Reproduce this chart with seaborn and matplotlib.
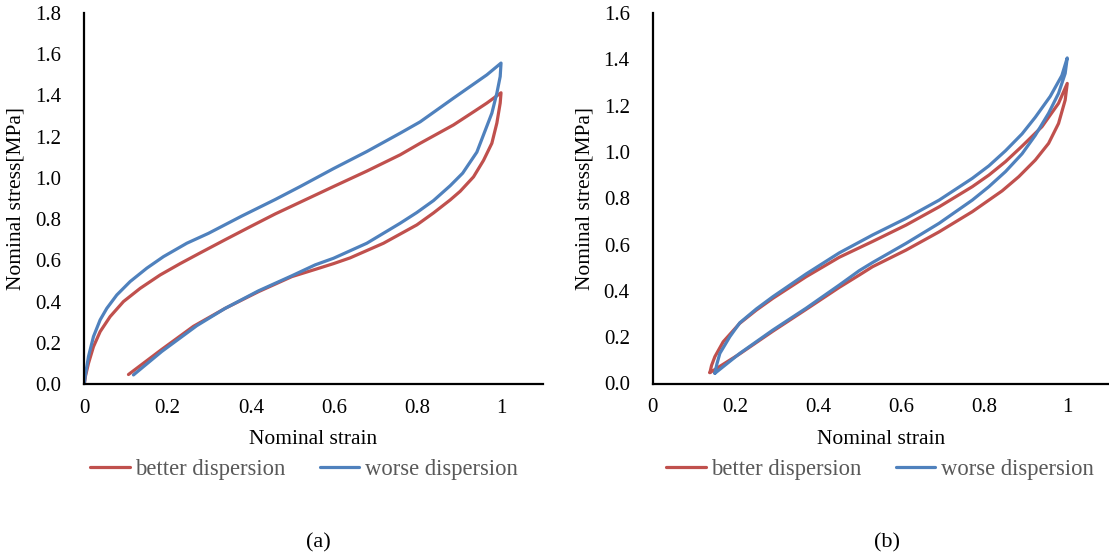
import numpy as np
import pandas as pd
import matplotlib
matplotlib.use("Agg")
import matplotlib.pyplot as plt
from matplotlib.lines import Line2D
import seaborn as sns

# ---- data: nominal stress [MPa] vs nominal strain, one hysteresis loop per series ----
# (a) better dispersion
a_better_load_x = [0.000, 0.003, 0.010, 0.022, 0.038, 0.062, 0.094, 0.134, 0.182, 0.230, 0.278,
                   0.338, 0.398, 0.458, 0.518, 0.598, 0.678, 0.758, 0.806, 0.886, 0.936, 0.966, 1.000]
a_better_load_y = [0.000, 0.040, 0.100, 0.181, 0.254, 0.327, 0.400, 0.464, 0.529, 0.584, 0.636,
                   0.700, 0.763, 0.825, 0.882, 0.958, 1.033, 1.112, 1.168, 1.257, 1.323, 1.363, 1.413]
a_better_unload_x = [0.998, 0.990, 0.978, 0.958, 0.934, 0.902, 0.878, 0.838, 0.798, 0.718, 0.638,
                     0.598, 0.554, 0.498, 0.418, 0.338, 0.262, 0.184, 0.106]
a_better_unload_y = [1.363, 1.266, 1.168, 1.085, 1.005, 0.935, 0.893, 0.830, 0.772, 0.683, 0.612,
                     0.584, 0.556, 0.521, 0.448, 0.367, 0.280, 0.165, 0.046]

# (a) worse dispersion
a_worse_load_x = [0.000, 0.002, 0.010, 0.022, 0.038, 0.054, 0.078, 0.110, 0.150, 0.190, 0.246,
                  0.298, 0.378, 0.458, 0.518, 0.598, 0.678, 0.758, 0.806, 0.886, 0.966, 1.000]
a_worse_load_y = [0.000, 0.035, 0.133, 0.230, 0.311, 0.367, 0.432, 0.497, 0.562, 0.618, 0.683,
                  0.731, 0.815, 0.895, 0.958, 1.045, 1.128, 1.217, 1.272, 1.387, 1.500, 1.557]
a_worse_unload_x = [0.998, 0.990, 0.978, 0.962, 0.942, 0.908, 0.878, 0.838, 0.798, 0.758, 0.678,
                    0.598, 0.554, 0.498, 0.418, 0.338, 0.270, 0.186, 0.118]
a_worse_unload_y = [1.492, 1.411, 1.314, 1.230, 1.125, 1.023, 0.962, 0.890, 0.832, 0.780, 0.683,
                    0.610, 0.578, 0.525, 0.452, 0.367, 0.283, 0.158, 0.044]

# (b) better dispersion
b_better_load_x = [0.138, 0.142, 0.150, 0.170, 0.210, 0.250, 0.290, 0.370, 0.450, 0.530, 0.611,
                   0.691, 0.771, 0.811, 0.851, 0.891, 0.939, 0.979, 1.000]
b_better_load_y = [0.047, 0.078, 0.116, 0.180, 0.260, 0.317, 0.368, 0.461, 0.545, 0.613, 0.684,
                   0.763, 0.850, 0.900, 0.958, 1.025, 1.109, 1.210, 1.296]
b_better_unload_x = [0.995, 0.979, 0.955, 0.923, 0.883, 0.843, 0.771, 0.691, 0.611, 0.530, 0.498,
                     0.450, 0.370, 0.290, 0.210, 0.138]
b_better_unload_y = [1.224, 1.123, 1.037, 0.965, 0.893, 0.832, 0.742, 0.655, 0.576, 0.504, 0.468,
                     0.415, 0.320, 0.226, 0.128, 0.047]

# (b) worse dispersion
b_worse_load_x = [0.150, 0.155, 0.162, 0.186, 0.210, 0.250, 0.290, 0.370, 0.450, 0.530, 0.611,
                  0.691, 0.771, 0.811, 0.851, 0.891, 0.923, 0.959, 0.987, 1.000]
b_worse_load_y = [0.044, 0.085, 0.130, 0.202, 0.262, 0.322, 0.375, 0.473, 0.564, 0.641, 0.713,
                  0.792, 0.886, 0.940, 1.005, 1.078, 1.150, 1.240, 1.330, 1.406]
b_worse_unload_x = [0.995, 0.979, 0.955, 0.923, 0.891, 0.851, 0.811, 0.771, 0.691, 0.611, 0.530,
                    0.498, 0.450, 0.370, 0.290, 0.210, 0.150]
b_worse_unload_y = [1.339, 1.253, 1.167, 1.072, 0.992, 0.915, 0.850, 0.792, 0.692, 0.605, 0.522,
                    0.487, 0.425, 0.325, 0.231, 0.130, 0.044]

series_names = ["better dispersion", "worse dispersion"]
series_colors = ["#C0504D", "#4F81BD"]

x_ticks = [0, 0.2, 0.4, 0.6, 0.8, 1.0]
x_tick_labels = ["0", "0.2", "0.4", "0.6", "0.8", "1"]
a_y_ticks = [0.0, 0.2, 0.4, 0.6, 0.8, 1.0, 1.2, 1.4, 1.6, 1.8]
b_y_ticks = [0.0, 0.2, 0.4, 0.6, 0.8, 1.0, 1.2, 1.4, 1.6]
panel_tags = ["(a)", "(b)"]


def loop_frame(loops):
    """Join loading and unloading branches of each series into one ordered path."""
    parts = []
    for name, (lx, ly, ux, uy) in zip(series_names, loops):
        xs = list(lx) + list(ux)
        ys = list(ly) + list(uy)
        parts.append(pd.DataFrame({"strain": xs, "stress": ys,
                                   "series": name, "order": range(len(xs))}))
    return pd.concat(parts, ignore_index=True)


df_a = loop_frame([(a_better_load_x, a_better_load_y, a_better_unload_x, a_better_unload_y),
                   (a_worse_load_x, a_worse_load_y, a_worse_unload_x, a_worse_unload_y)])
df_b = loop_frame([(b_better_load_x, b_better_load_y, b_better_unload_x, b_better_unload_y),
                   (b_worse_load_x, b_worse_load_y, b_worse_unload_x, b_worse_unload_y)])

sns.set_style("white")
plt.rcParams["font.family"] = ["Liberation Serif", "DejaVu Serif"]

W, H = 1109, 556
fig = plt.figure(figsize=(W / 100, H / 100), dpi=100)
ax_a = fig.add_axes([84.3 / W, (H - 384) / H, 458.4 / W, 371 / H])
ax_b = fig.add_axes([652.7 / W, (H - 383.5) / H, 456.0 / W, 370.5 / H])

palette = dict(zip(series_names, series_colors))
tick_fs = 15
label_fs = 15.5
legend_fs = 16.3

for ax, df, yticks, ymax, tag, legend_cx, tag_x in [
        (ax_a, df_a, a_y_ticks, 1.8, panel_tags[0], 304, 318),
        (ax_b, df_b, b_y_ticks, 1.6, panel_tags[1], 880, 887)]:
    sns.lineplot(data=df, x="strain", y="stress", hue="series", units="series",
                 palette=palette, sort=False, estimator=None, legend=False,
                 linewidth=2.3, ax=ax)
    for ln in ax.get_lines():
        ln.set_solid_joinstyle("round")
        ln.set_solid_capstyle("round")
    ax.set_xlim(0, 1.1)
    ax.set_ylim(0, ymax)
    ax.set_xticks(x_ticks)
    ax.set_xticklabels(x_tick_labels)
    ax.set_yticks(yticks)
    ax.set_yticklabels([f"{v:.1f}" for v in yticks])
    ax.tick_params(axis="both", length=0, labelsize=tick_fs, colors="black")
    ax.tick_params(axis="y", pad=16.5)
    ax.tick_params(axis="x", pad=10.5)
    for side in ("top", "right"):
        ax.spines[side].set_visible(False)
    for side in ("left", "bottom"):
        ax.spines[side].set_color("black")
        ax.spines[side].set_linewidth(1.6)
    ax.grid(False)

    ax.set_xlabel("Nominal strain", fontsize=label_fs, color="black")
    ax.xaxis.set_label_coords(0.5, (384 - 440) / 371)
    ax.xaxis.label.set_va("center")
    ax.set_ylabel("Nominal stress[MPa]", fontsize=label_fs, color="black")
    ax.yaxis.set_label_coords(-0.149, 0.5)
    ax.yaxis.label.set_va("center")

    handles = [Line2D([], [], color=c, linewidth=2.3) for c in series_colors]
    leg = ax.legend(handles, series_names, loc="center", ncol=2, frameon=False,
                    bbox_to_anchor=(legend_cx / W, (H - 469) / H),
                    bbox_transform=fig.transFigure,
                    fontsize=legend_fs, handlelength=1.75, handletextpad=0.25,
                    columnspacing=1.5, borderaxespad=0, borderpad=0)
    for t in leg.get_texts():
        t.set_color("#595959")

    fig.text(tag_x / W, (H - 543) / H, tag, ha="center", va="center",
             fontsize=16, color="black")

fig.savefig("out.png", dpi=100, facecolor="white")
